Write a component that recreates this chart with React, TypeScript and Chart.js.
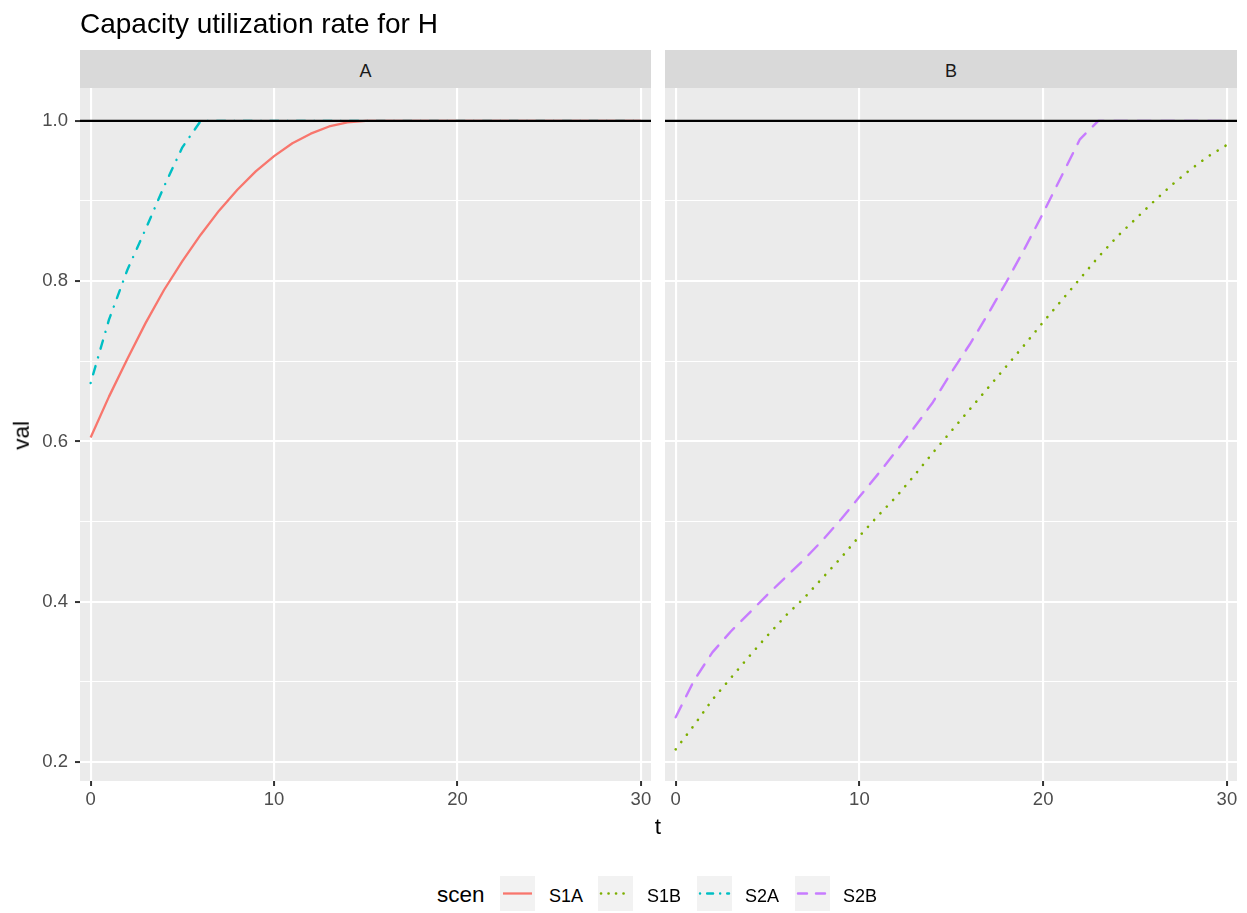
import React, { useEffect, useRef } from "react";
import { Chart, registerables } from "chart.js";

Chart.register(...registerables);

const FONT = '"Liberation Sans", Arimo, Arial, Helvetica, sans-serif';

// ---------- data ----------
const tValues = [0, 1, 2, 3, 4, 5, 6, 7, 8, 9, 10, 11, 12, 13, 14, 15, 16, 17, 18, 19, 20, 21, 22, 23, 24, 25, 26, 27, 28, 29, 30];

const s1A = [0.605, 0.656, 0.703, 0.748, 0.789, 0.825, 0.858, 0.888, 0.914, 0.937, 0.956, 0.972, 0.984, 0.993, 0.998, 1.0, 1.0, 1.0, 1.0, 1.0, 1.0, 1.0, 1.0, 1.0, 1.0, 1.0, 1.0, 1.0, 1.0, 1.0, 1.0];
const s2A = [0.673, 0.752, 0.814, 0.865, 0.918, 0.967, 1.0, 1.0, 1.0, 1.0, 1.0, 1.0, 1.0, 1.0, 1.0, 1.0, 1.0, 1.0, 1.0, 1.0, 1.0, 1.0, 1.0, 1.0, 1.0, 1.0, 1.0, 1.0, 1.0, 1.0, 1.0];
const s1B = [0.216, 0.246, 0.278, 0.305, 0.332, 0.358, 0.383, 0.405, 0.43, 0.455, 0.482, 0.507, 0.531, 0.558, 0.586, 0.613, 0.64, 0.667, 0.694, 0.721, 0.749, 0.776, 0.803, 0.83, 0.855, 0.877, 0.899, 0.92, 0.939, 0.956, 0.97];
const s2B = [0.256, 0.302, 0.337, 0.363, 0.386, 0.409, 0.431, 0.453, 0.477, 0.503, 0.531, 0.559, 0.588, 0.618, 0.649, 0.686, 0.721, 0.759, 0.799, 0.841, 0.885, 0.931, 0.977, 1.0, 1.0, 1.0, 1.0, 1.0, 1.0, 1.0, 1.0];

const scenNames = ["S1A", "S1B", "S2A", "S2B"];
const panelNames = ["A", "B"];
const yTicks = [0.2, 0.3, 0.4, 0.5, 0.6, 0.7, 0.8, 0.9, 1.0];
const yMajorTicks = [0.2, 0.4, 0.6, 0.8, 1.0];
const xTicks = [0, 10, 20, 30];
const refLine = 1.0;
const titleText = "Capacity utilization rate for H";
const xTitle = "t";
const yTitle = "val";
const legendTitle = "scen";

// ---------- styles ----------
const seriesStyle: Record<string, { color: string; width: number; dash: number[]; cap: CanvasLineCap; svgDash: string }> = {
  S1A: { color: "#F8766D", width: 2.3, dash: [], cap: "butt", svgDash: "" },
  S1B: { color: "#7CAE00", width: 2.6, dash: [0.1, 9.1], cap: "round", svgDash: "0.1 7.4" },
  S2A: { color: "#00BFC4", width: 2.4, dash: [0.1, 9, 8.5, 9], cap: "round", svgDash: "0.1 7 6 7" },
  S2B: { color: "#C77CFF", width: 2.4, dash: [13.2, 10.3], cap: "round", svgDash: "9 9" },
};

const X_MIN = -0.58;
const X_MAX = 30.55;
const Y_MIN = 0.1765;
const Y_MAX = 1.041;

function isMajor(v: any) {
  if (typeof v !== "number") return false;
  return yMajorTicks.some((m) => Math.abs(m - v) < 1e-9);
}

const panelPlugin = {
  id: "panelBg",
  beforeDraw(chart: any) {
    const { ctx, chartArea: a } = chart;
    ctx.save();
    ctx.fillStyle = "#EBEBEB";
    ctx.fillRect(a.left, a.top, a.right - a.left, a.bottom - a.top);
    ctx.restore();
  },
  afterDatasetsDraw(chart: any) {
    const { ctx, chartArea: a } = chart;
    const y = chart.scales.y.getPixelForValue(refLine);
    ctx.save();
    ctx.beginPath();
    ctx.rect(a.left, a.top, a.right - a.left, a.bottom - a.top);
    ctx.clip();
    ctx.strokeStyle = "#000000";
    ctx.lineWidth = 2.2;
    ctx.setLineDash([]);
    ctx.beginPath();
    ctx.moveTo(a.left, y);
    ctx.lineTo(a.right, y);
    ctx.stroke();
    ctx.restore();
  },
};

function makeConfig(panel: string, series: { name: string; values: number[] }[]): any {
  const showY = panel === "A";
  return {
    type: "line",
    data: {
      datasets: series.map((s) => {
        const st = seriesStyle[s.name];
        return {
          label: s.name,
          data: tValues.map((t, i) => ({ x: t, y: s.values[i] })),
          borderColor: st.color,
          backgroundColor: st.color,
          borderWidth: st.width,
          borderDash: st.dash,
          borderCapStyle: st.cap,
          borderJoinStyle: "round",
          pointRadius: 0,
          pointHoverRadius: 0,
          tension: 0,
          fill: false,
        };
      }),
    },
    options: {
      responsive: false,
      animation: false,
      devicePixelRatio: 1,
      events: [],
      layout: {
        padding: showY
          ? { top: 88, left: 0, right: 7, bottom: 0 }
          : { top: 88, left: 0, right: 10, bottom: 0 },
      },
      plugins: {
        legend: { display: false },
        tooltip: { enabled: false },
        title: { display: false },
      },
      scales: {
        x: {
          type: "linear",
          min: X_MIN,
          max: X_MAX,
          afterBuildTicks: (s: any) => {
            s.ticks = xTicks.map((v) => ({ value: v }));
          },
          afterFit: (s: any) => {
            s.height = 69;
          },
          border: { display: false },
          grid: {
            color: "#FFFFFF",
            lineWidth: 2.1,
            tickColor: "#333333",
            tickLength: 5,
            tickWidth: 2,
          },
          ticks: {
            color: "#4D4D4D",
            font: { family: FONT, size: 18.5 },
            padding: 3,
            maxRotation: 0,
            autoSkip: false,
            callback: (v: any) => String(v),
          },
        },
        y: {
          type: "linear",
          min: Y_MIN,
          max: Y_MAX,
          afterBuildTicks: (s: any) => {
            s.ticks = yTicks.map((v) => ({ value: v }));
          },
          afterFit: (s: any) => {
            s.width = showY ? 80 : 7;
          },
          border: { display: false },
          grid: {
            color: "#FFFFFF",
            lineWidth: (c: any) => (isMajor(c.tick && c.tick.value) ? 2.1 : 1.1),
            drawTicks: showY,
            tickColor: (c: any) => (isMajor(c.tick && c.tick.value) ? "#333333" : "rgba(0,0,0,0)"),
            tickLength: 5,
            tickWidth: 2,
          },
          ticks: {
            display: showY,
            color: "#4D4D4D",
            font: { family: FONT, size: 18.5 },
            padding: 7,
            autoSkip: false,
            callback: (v: any) => (isMajor(v) ? Number(v).toFixed(1) : ""),
          },
        },
      },
    },
    plugins: [panelPlugin],
  };
}

const abs = (o: React.CSSProperties): React.CSSProperties => ({ position: "absolute", ...o });

export default function App() {
  const refA = useRef<HTMLCanvasElement>(null);
  const refB = useRef<HTMLCanvasElement>(null);

  useEffect(() => {
    const a = new Chart(
      refA.current as HTMLCanvasElement,
      makeConfig(panelNames[0], [
        { name: "S1A", values: s1A },
        { name: "S2A", values: s2A },
      ])
    );
    const b = new Chart(
      refB.current as HTMLCanvasElement,
      makeConfig(panelNames[1], [
        { name: "S1B", values: s1B },
        { name: "S2B", values: s2B },
      ])
    );
    return () => {
      a.destroy();
      b.destroy();
    };
  }, []);

  const stripLeft = [80, 665];
  const stripWidth = [571, 572];
  const keyLeft = [500, 598, 697, 795];
  const labelLeft = [549, 647, 745, 843];

  return (
    <div
      style={abs({
        left: 0,
        top: 0,
        width: 1247,
        height: 913,
        background: "#FFFFFF",
        overflow: "hidden",
        fontFamily: FONT,
      })}
    >
      <canvas ref={refA} width={658} height={850} style={abs({ left: 0, top: 0, width: 658, height: 850 })} />
      <canvas ref={refB} width={589} height={850} style={abs({ left: 658, top: 0, width: 589, height: 850 })} />

      <div style={abs({ left: 80, top: 10, fontSize: 28, lineHeight: 1, color: "#000000", whiteSpace: "nowrap" })}>
        {titleText}
      </div>

      {panelNames.map((p, i) => (
        <div
          key={p}
          style={abs({ left: stripLeft[i], top: 50, width: stripWidth[i], height: 38, background: "#D9D9D9" })}
        >
          <div style={abs({ left: 0, top: 12, width: "100%", textAlign: "center", fontSize: 18, lineHeight: 1, color: "#1A1A1A" })}>
            {p}
          </div>
        </div>
      ))}

      <div style={abs({ left: 608, top: 816, width: 100, textAlign: "center", fontSize: 22.5, lineHeight: 1, color: "#000000" })}>
        {xTitle}
      </div>
      <div
        style={abs({
          left: 22 - 50,
          top: 435 - 11.25,
          width: 100,
          height: 22.5,
          textAlign: "center",
          fontSize: 22.5,
          lineHeight: 1,
          color: "#000000",
          transform: "rotate(-90deg)",
        })}
      >
        {yTitle}
      </div>

      <div style={abs({ left: 437, top: 884, fontSize: 22.5, lineHeight: 1, color: "#000000" })}>{legendTitle}</div>
      {scenNames.map((n, i) => {
        const st = seriesStyle[n];
        return (
          <React.Fragment key={n}>
            <svg width={35} height={35} style={abs({ left: keyLeft[i], top: 876, background: "#F2F2F2" })}>
              <line
                x1={3}
                y1={17.5}
                x2={32}
                y2={17.5}
                stroke={st.color}
                strokeWidth={st.width}
                strokeDasharray={st.svgDash || undefined}
                strokeLinecap={st.cap === "round" ? "round" : "butt"}
              />
            </svg>
            <div style={abs({ left: labelLeft[i], top: 886.5, fontSize: 18, lineHeight: 1, color: "#000000" })}>{n}</div>
          </React.Fragment>
        );
      })}
    </div>
  );
}
